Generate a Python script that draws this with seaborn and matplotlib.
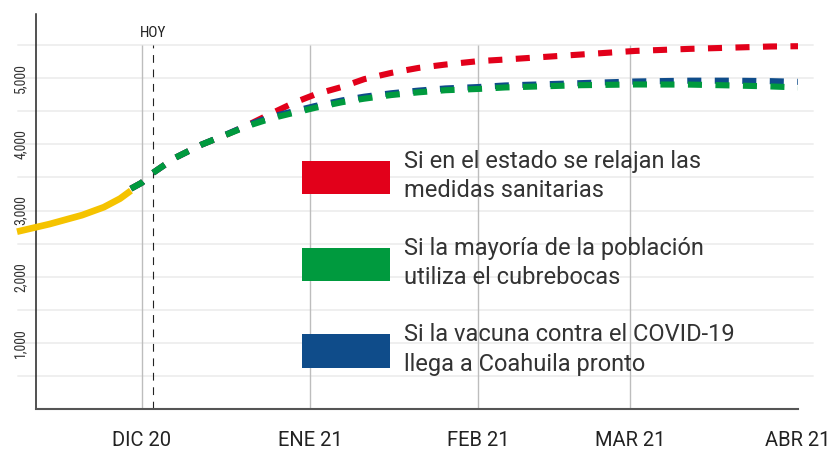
import pandas as pd
import seaborn as sns
import matplotlib
matplotlib.use("Agg")
import matplotlib.pyplot as plt
from matplotlib.patches import Patch

# casos observados (linea amarilla)
actual_dates = ["2020-11-08", "2020-11-14", "2020-11-20", "2020-11-24", "2020-11-27", "2020-11-29"]
actual_cases = [2680, 2795, 2930, 3050, 3180, 3300]

# proyecciones por escenario
proj_dates = ["2020-11-29", "2020-12-01", "2020-12-03", "2020-12-07", "2020-12-12", "2020-12-17",
              "2020-12-21", "2020-12-25", "2020-12-29", "2021-01-02", "2021-01-07", "2021-01-11",
              "2021-01-16", "2021-01-21", "2021-01-26", "2021-02-01", "2021-02-06", "2021-02-20",
              "2021-03-02", "2021-03-12", "2021-03-20", "2021-03-27", "2021-04-01"]
relajan = [3330, 3420, 3565, 3790, 3995, 4160, 4310, 4471, 4627, 4755, 4870, 4985,
           5080, 5155, 5206, 5257, 5282, 5358, 5412, 5443, 5462, 5479, 5483]
cubrebocas = [3330, 3420, 3565, 3790, 3995, 4160, 4290, 4395, 4475, 4553, 4638, 4690,
              4745, 4786, 4818, 4837, 4860, 4894, 4905, 4903, 4890, 4875, 4860]
vacuna = [3330, 3420, 3565, 3790, 3995, 4165, 4305, 4420, 4500, 4580, 4665, 4720,
          4772, 4812, 4845, 4866, 4890, 4925, 4950, 4962, 4962, 4955, 4945]

month_ticks = ["2020-12-01", "2021-01-01", "2021-02-01", "2021-03-01", "2021-04-01"]
month_labels = ["DIC 20", "ENE 21", "FEB 21", "MAR 21", "ABR 21"]
hoy_date = "2020-12-03"
y_ticks = [1000, 2000, 3000, 4000, 5000]
y_grid = [500, 1000, 1500, 2000, 2500, 3000, 3500, 4000, 4500, 5000, 5500]

legend_labels = ["Si en el estado se relajan las\nmedidas sanitarias",
                 "Si la mayoría de la población\nutiliza el cubrebocas",
                 "Si la vacuna contra el COVID-19\nllega a Coahuila pronto"]

RED, GREEN, BLUE, YELLOW = "#e2001a", "#009a3e", "#0f4c8a", "#f5c300"

sns.set_theme(style="white")
plt.rcParams["font.family"] = ["Roboto Condensed", "Roboto", "DejaVu Sans"]

fig = plt.figure(figsize=(8.3, 4.54), dpi=100)
ax = fig.add_axes([36 / 830, 45 / 454, 762 / 830, 395 / 454])

proj = pd.DataFrame({
    "fecha": pd.to_datetime(proj_dates),
    "relajan": relajan,
    "cubrebocas": cubrebocas,
    "vacuna": vacuna,
})
obs = pd.DataFrame({"fecha": pd.to_datetime(actual_dates), "casos": actual_cases})

# grid
for g in y_grid:
    ax.axhline(g, xmin=-0.024, xmax=1.02, color="#efefef", lw=1.4, clip_on=False, zorder=0)
ax.vlines(pd.to_datetime(month_ticks[:-1]), 0, 5500, color="#bdbdbd", lw=1, zorder=1)
ax.vlines(pd.to_datetime(hoy_date), 0, 5500, color="#222222", lw=0.8,
          linestyles=(0, (7, 6)), zorder=1)
ax.text(pd.to_datetime(hoy_date), 5690, "HOY", ha="center", va="center",
        fontsize=11, color="#222222")

dash = (0, (2.3, 2.2))
for col, color in [("relajan", RED), ("vacuna", BLUE), ("cubrebocas", GREEN)]:
    sns.lineplot(data=proj, x="fecha", y=col, ax=ax, color=color, lw=4.4,
                 linestyle=dash, solid_capstyle="butt", dash_capstyle="butt", zorder=3)
sns.lineplot(data=obs, x="fecha", y="casos", ax=ax, color=YELLOW, lw=4.8,
             solid_capstyle="butt", solid_joinstyle="round", clip_on=False, zorder=3)

ax.set_xlim(pd.Timestamp("2020-11-11 12:00"), pd.Timestamp("2021-04-01"))
ax.set_ylim(0, 5970)
ax.set_xlabel("")
ax.set_ylabel("")

ax.set_xticks(pd.to_datetime(month_ticks))
ax.set_xticklabels(month_labels, fontsize=14.5, color="#222222",
                   family=["Roboto", "DejaVu Sans"])
ax.set_yticks(y_ticks)
ax.set_yticklabels([f"{v:,}" for v in y_ticks], rotation=90, va="center",
                   fontsize=10, color="#333333")
ax.tick_params(axis="x", length=6, width=1, color="#bdbdbd", pad=10)
ax.tick_params(axis="y", length=0, pad=6)

for s in ["top", "right"]:
    ax.spines[s].set_visible(False)
ax.spines["left"].set_color("#222222")
ax.spines["left"].set_linewidth(1.1)
ax.spines["bottom"].set_color("#555555")
ax.spines["bottom"].set_linewidth(1.5)

handles = [Patch(facecolor=c, edgecolor="none") for c in (RED, GREEN, BLUE)]
leg = ax.legend(handles=handles, labels=legend_labels, loc="upper left",
                bbox_to_anchor=(0.349, 0.656), frameon=False,
                prop={"family": ["Roboto", "DejaVu Sans"], "size": 17},
                handlelength=3.73, handleheight=1.8, handletextpad=0.6,
                labelspacing=1.45, borderpad=0, borderaxespad=0,
                labelcolor="#333333")
for t in leg.get_texts():
    t.set_linespacing(1.36)

fig.savefig("out.png", dpi=100)
